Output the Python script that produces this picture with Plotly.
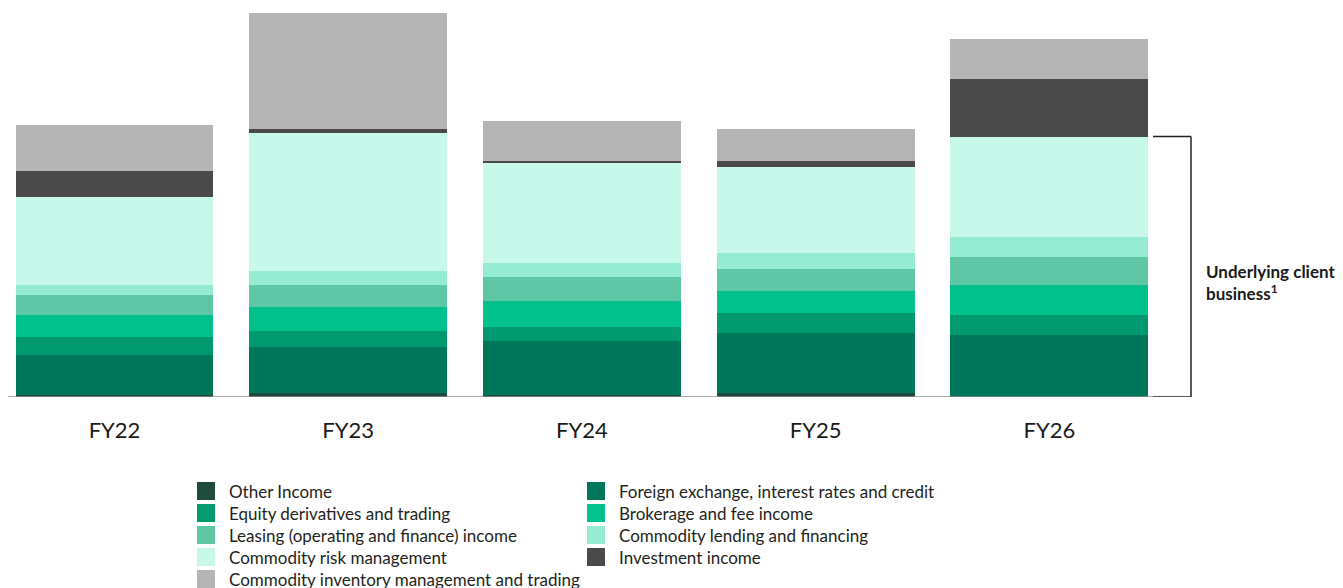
import plotly.graph_objects as go

categories = ["FY22", "FY23", "FY24", "FY25", "FY26"]

# Series, bottom to top (relative units)
other_income = [2, 4, 2, 4, 0.5]
fx_rates_credit = [40, 46, 54, 60, 62]
equity_derivatives = [18, 16, 14, 20, 20]
brokerage_fee = [22, 24, 26, 22, 30]
leasing_income = [20, 22, 24, 22, 28]
commodity_lending = [10, 14, 14, 16, 20]
commodity_risk_mgmt = [88, 138, 100, 86, 100]
investment_income = [26, 4, 2, 6, 58]
commodity_inventory = [46, 116, 40, 32, 40]

series_names = [
    "Other Income",
    "Foreign exchange, interest rates and credit",
    "Equity derivatives and trading",
    "Brokerage and fee income",
    "Leasing (operating and finance) income",
    "Commodity lending and financing",
    "Commodity risk management",
    "Investment income",
    "Commodity inventory management and trading",
]
series_values = [
    other_income, fx_rates_credit, equity_derivatives, brokerage_fee,
    leasing_income, commodity_lending, commodity_risk_mgmt,
    investment_income, commodity_inventory,
]
series_colors = [
    "#1e4b3d", "#00775a", "#009a6e", "#00c08b", "#5fc7a5",
    "#96ecd3", "#c8f8ea", "#4a4a4a", "#b5b5b5",
]
underlying_count = 7  # first seven series form the "underlying client business"

FONT = "Lato"
OFF = 8  # page body margin offset
W, H = 1343, 588
PH = 387
PW = 1158
ML, MT = 0, 2
MR = W - ML - PW
MB = H - MT - PH
X0 = -106.5 / 233.7
X1 = X0 + PW / 233.7


def px_x(px):
    return (px - OFF - ML) / PW


def px_y(py):
    return (H - MB - (py - OFF)) / PH


fig = go.Figure()
for name, vals, col in zip(series_names, series_values, series_colors):
    fig.add_trace(go.Bar(
        x=categories, y=vals, name=name,
        marker=dict(color=col, line=dict(width=0)),
        showlegend=False,
    ))

# Baseline (axis line)
fig.add_shape(type="line", xref="paper", yref="y", x0=0, x1=px_x(1153),
              y0=0, y1=0, line=dict(color="#8c8c8c", width=1.5), layer="above")

# Bracket for underlying client business (FY26)
top_underlying = sum(v[-1] for v in series_values[:underlying_count])
bx0, bx1 = px_x(1153), px_x(1191)
fig.add_shape(type="line", xref="paper", yref="y", x0=bx0, x1=bx1,
              y0=top_underlying, y1=top_underlying,
              line=dict(color="#222222", width=1.5))
fig.add_shape(type="line", xref="paper", yref="y", x0=bx1, x1=bx1,
              y0=0, y1=top_underlying, line=dict(color="#222222", width=1.5))
fig.add_shape(type="line", xref="paper", yref="y", x0=bx0, x1=bx1,
              y0=0, y1=0, line=dict(color="#222222", width=1.5))
fig.add_annotation(xref="paper", yref="paper", x=px_x(1204), y=px_y(282),
                   xanchor="left", yanchor="middle", align="left", showarrow=False,
                   text="<b>Underlying client<br>business<sup>1</sup></b>",
                   font=dict(family=FONT, size=17, color="#1a1a1a"))

# Manual legend (two columns, row-major order)
col_x = [197, 587]
row_y0, row_dy, sw = 491, 22, 18
for i, (name, col) in enumerate(zip(series_names, series_colors)):
    r, c = divmod(i, 2)
    cx, cy = col_x[c], row_y0 + r * row_dy
    fig.add_shape(type="rect", xref="paper", yref="paper",
                  x0=px_x(cx), x1=px_x(cx + sw),
                  y0=px_y(cy + sw / 2), y1=px_y(cy - sw / 2),
                  fillcolor=col, line=dict(width=0))
    fig.add_annotation(xref="paper", yref="paper", x=px_x(cx + 30), y=px_y(cy),
                       xanchor="left", yanchor="middle", showarrow=False,
                       text=name, font=dict(family=FONT, size=17, color="#231f20"))

fig.update_layout(
    width=W, height=H,
    margin=dict(l=ML, r=MR, t=MT, b=MB),
    barmode="stack", bargap=0.153,
    plot_bgcolor="white", paper_bgcolor="white",
    font=dict(family=FONT, color="#1a1a1a"),
    xaxis=dict(range=[X0, X1], showgrid=False, zeroline=False,
               showline=False, ticks="", ticklabelstandoff=18,
               tickfont=dict(family=FONT, size=22, color="#1a1a1a")),
    yaxis=dict(range=[0, PH], visible=False, showgrid=False, zeroline=False),
)

fig.write_html("out.html")
